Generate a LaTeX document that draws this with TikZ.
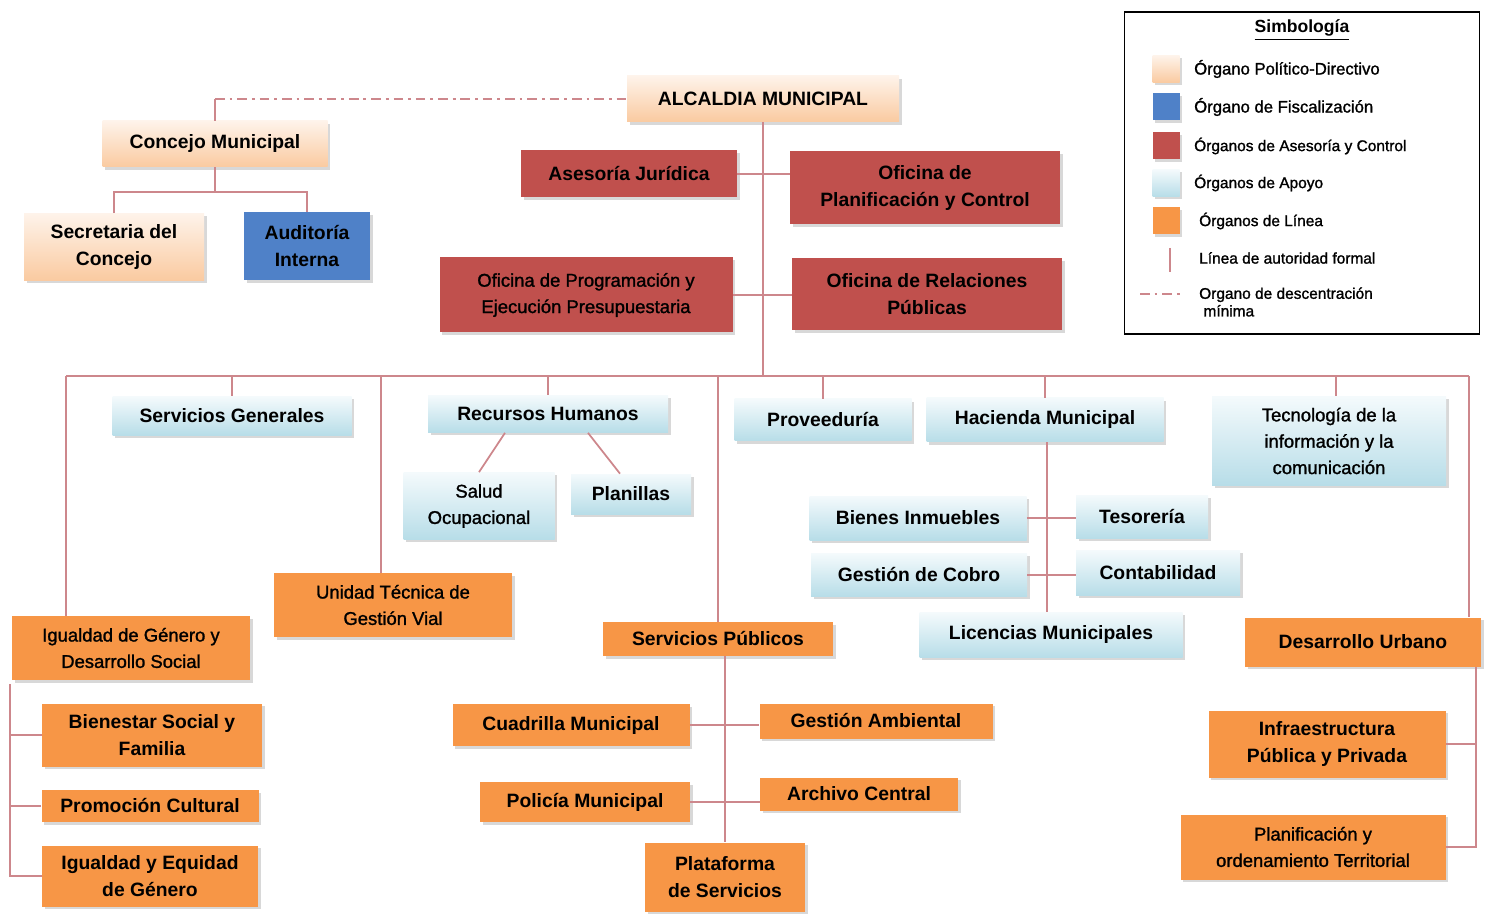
\documentclass[tikz,border=0pt]{standalone}
\usepackage{fontspec}
\setmainfont{Liberation Sans}
\newfontfamily\medfont[FakeBold=1.3]{Liberation Sans}
\usetikzlibrary{shadows}
\definecolor{peachA}{RGB}{254,243,234}
\definecolor{peachB}{RGB}{250,202,160}
\definecolor{azul}{RGB}{79,129,200}
\definecolor{rojo}{RGB}{192,80,77}
\definecolor{celesteA}{RGB}{244,250,252}
\definecolor{celesteB}{RGB}{183,221,232}
\definecolor{naranja}{RGB}{247,150,70}
\definecolor{rosa}{RGB}{205,135,140}
\tikzset{
    caja/.style={align=center, inner sep=2pt, font=\fontsize{11}{15.5}\selectfont\bfseries,
        drop shadow={shadow xshift=1.6pt, shadow yshift=-1.6pt, fill=black!30}}, % every box
    sz/.style 2 args={minimum width=#1*0.02cm, minimum height=#2*0.02cm}, % box size in px
    politico/.style={caja, top color=peachA, bottom color=peachB},
    fiscal/.style={caja, fill=azul},
    asesoria/.style={caja, fill=rojo},
    apoyo/.style={caja, top color=celesteA, bottom color=celesteB},
    linea/.style={caja, fill=naranja},
    fino/.style={font=\fontsize{10.5}{15}\selectfont\medfont}, % lighter text
    autoridad/.style={draw=rosa, line width=1pt},
    descentra/.style={autoridad, dash pattern=on 5.5pt off 2.8pt on 1.6pt off 2.8pt},
    leyenda/.style={anchor=west, font=\fontsize{8.8}{10}\selectfont\medfont},
}
\begin{document}
\begin{tikzpicture}[x=0.02cm, y=-0.02cm]
\useasboundingbox (0,0) rectangle (1491,915);

% top level
\node[politico, sz={272}{46}] (alcaldia) at (763,99) {ALCALDIA MUNICIPAL};
\node[politico, sz={225}{46}] (concejo) at (215,144) {Concejo Municipal};
\node[politico, sz={180}{67}] (secretaria) at (114,247) {Secretaria del\\Concejo};
\node[fiscal, sz={126}{68}] (auditoria) at (307,246) {Auditoría\\Interna};

% asesoria y control
\node[asesoria, sz={216}{47}] (juridica) at (629,174) {Asesoría Jurídica};
\node[asesoria, sz={270}{73}] (ofplan) at (925,188) {Oficina de\\Planificación y Control};
\node[asesoria, sz={293}{75}, fino] (ofprog) at (586,295) {Oficina de Programación y\\Ejecución Presupuestaria};
\node[asesoria, sz={270}{72}] (ofrel) at (927,294) {Oficina de Relaciones\\Públicas};

% apoyo
\node[apoyo, sz={239}{39}] (sgen) at (232,416) {Servicios Generales};
\node[apoyo, sz={240}{37}] (rh) at (548,414) {Recursos Humanos};
\node[apoyo, sz={151}{67}, fino] (salud) at (479,506) {Salud\\Ocupacional};
\node[apoyo, sz={120}{40}] (planillas) at (631,494) {Planillas};
\node[apoyo, sz={177}{42}] (proveeduria) at (823,420) {Proveeduría};
\node[apoyo, sz={237}{44}] (hacienda) at (1045,420) {Hacienda Municipal};
\node[apoyo, sz={234}{89}, fino] (tic) at (1329,441) {Tecnología de la\\información y la\\comunicación};
\node[apoyo, sz={217}{44}] (bienes) at (918,518) {Bienes Inmuebles};
\node[apoyo, sz={132}{43}] (tesoreria) at (1142,517) {Tesorería};
\node[apoyo, sz={216}{43}] (cobro) at (919,575) {Gestión de Cobro};
\node[apoyo, sz={164}{45}] (contab) at (1158,573) {Contabilidad};
\node[apoyo, sz={263}{45}] (licencias) at (1051,635) {Licencias Municipales};

% organos de linea
\node[linea, sz={238}{64}, fino] (unidad) at (393,605) {Unidad Técnica de\\Gestión Vial};
\node[linea, sz={238}{64}, fino] (igualdad) at (131,648) {Igualdad de Género y\\Desarrollo Social};
\node[linea, sz={220}{63}] (bienestar) at (152,735) {Bienestar Social y\\Familia};
\node[linea, sz={217}{32}] (promocion) at (150,806) {Promoción Cultural};
\node[linea, sz={216}{61}] (equidad) at (150,876) {Igualdad y Equidad\\de Género};
\node[linea, sz={230}{34}] (spub) at (718,639) {Servicios Públicos};
\node[linea, sz={237}{42}] (cuadrilla) at (571,725) {Cuadrilla Municipal};
\node[linea, sz={233}{35}] (gamb) at (876,721) {Gestión Ambiental};
\node[linea, sz={210}{40}] (policia) at (585,802) {Policía Municipal};
\node[linea, sz={198}{33}] (archivo) at (859,794) {Archivo Central};
\node[linea, sz={160}{69}] (plataforma) at (725,877) {Plataforma\\de Servicios};
\node[linea, sz={236}{49}] (durbano) at (1363,642) {Desarrollo Urbano};
\node[linea, sz={237}{67}] (infra) at (1327,744) {Infraestructura\\Pública y Privada};
\node[linea, sz={265}{65}, fino] (planif) at (1313,847) {Planificación y\\ordenamiento Territorial};

% conectores
\coordinate (barL) at (66,376);
\coordinate (barR) at (1469,376);
\coordinate (cj) at (215,192);
\coordinate (brL) at (10,684);
\coordinate (brR) at (1476,667);
\draw[descentra] (concejo.north |- alcaldia.west) -- (alcaldia.west);
\draw[autoridad] (concejo.north) -- (concejo.north |- alcaldia.west);
\draw[autoridad] (concejo.south) -- (cj);
\draw[autoridad] (secretaria.north) |- (cj) -| (auditoria.north);
\draw[autoridad] (alcaldia.south) -- (alcaldia.south |- barL);
\draw[autoridad] (juridica.east) -- (ofplan.west |- juridica.east);
\draw[autoridad] (ofprog.east) -- (ofrel.west |- ofprog.east);
\draw[autoridad] (barL) -- (barR);
\draw[autoridad] (barL) -- (barL |- igualdad.north);
\draw[autoridad] (sgen.north |- barL) -- (sgen.north);
\draw[autoridad] ([xshift=-0.24cm]unidad.north |- barL) -- ([xshift=-0.24cm]unidad.north);
\draw[autoridad] (rh.north |- barL) -- (rh.north);
\draw[autoridad] (spub.north |- barL) -- (spub.north);
\draw[autoridad] (proveeduria.north |- barL) -- (proveeduria.north);
\draw[autoridad] (hacienda.north |- barL) -- (hacienda.north);
\draw[autoridad] ([xshift=0.14cm]tic.north |- barL) -- ([xshift=0.14cm]tic.north);
\draw[autoridad] (barR) -- (barR |- durbano.north);
\draw[autoridad] ([xshift=-0.86cm]rh.south) -- (salud.north);
\draw[autoridad] ([xshift=0.8cm]rh.south) -- ([xshift=-0.22cm]planillas.north);
\draw[autoridad] ([xshift=0.04cm]hacienda.south) -- ([xshift=0.04cm]hacienda.south |- licencias.north);
\draw[autoridad] (bienes.east) -- (tesoreria.west |- bienes.east);
\draw[autoridad] (cobro.east) -- (contab.west |- cobro.east);
\draw[autoridad] (plataforma.north |- spub.south) -- (plataforma.north);
\draw[autoridad] (cuadrilla.east) -- (gamb.west |- cuadrilla.east);
\draw[autoridad] (policia.east) -- (archivo.west |- policia.east);
\draw[autoridad] (brL) |- (equidad.west);
\draw[autoridad] (brL |- bienestar.west) -- (bienestar.west);
\draw[autoridad] (brL |- promocion.west) -- (promocion.west);
\draw[autoridad] (brR) |- (planif.east);
\draw[autoridad] (brR |- infra.east) -- (infra.east);

% simbologia
\node[draw, line width=0.8pt, sz={355}{322}] (simb) at (1302,173) {};
\node[font=\fontsize{10}{11}\selectfont\bfseries] (titulo) at (1302,30) {\underline{Simbología}};
\node[politico, sz={27}{27}, inner sep=0pt] (s1) at (1166,69) {};
\node[fiscal, sz={27}{27}, inner sep=0pt] (s2) at (1166,107) {};
\node[asesoria, sz={27}{27}, inner sep=0pt] (s3) at (1166,146) {};
\node[apoyo, sz={27}{27}, inner sep=0pt] (s4) at (1166,183) {};
\node[linea, sz={27}{27}, inner sep=0pt] (s5) at (1166,221) {};
\coordinate (s6a) at (1170,248);
\coordinate (s6b) at (1170,272);
\coordinate (s7a) at (1140,294);
\coordinate (s7b) at (1182,294);
\draw[autoridad] (s6a) -- (s6b);
\draw[descentra] (s7a) -- (s7b);
\node[leyenda, font=\fontsize{9.5}{11}\selectfont\medfont] (t1) at (1188,69) {Órgano Político-Directivo};
\node[leyenda, font=\fontsize{9.5}{11}\selectfont\medfont] (t2) at (1188,107) {Órgano de Fiscalización};
\node[leyenda] (t3) at (1188,146) {Órganos de Asesoría y Control};
\node[leyenda] (t4) at (1188,183) {Órganos de Apoyo};
\node[leyenda] (t5) at (1193,221) {Órganos de Línea};
\node[leyenda] (t6) at (1193,258) {Línea de autoridad formal};
\node[leyenda, align=left] (t7) at (1193,302) {Organo de descentración\\\ mínima};
\end{tikzpicture}
\end{document}
